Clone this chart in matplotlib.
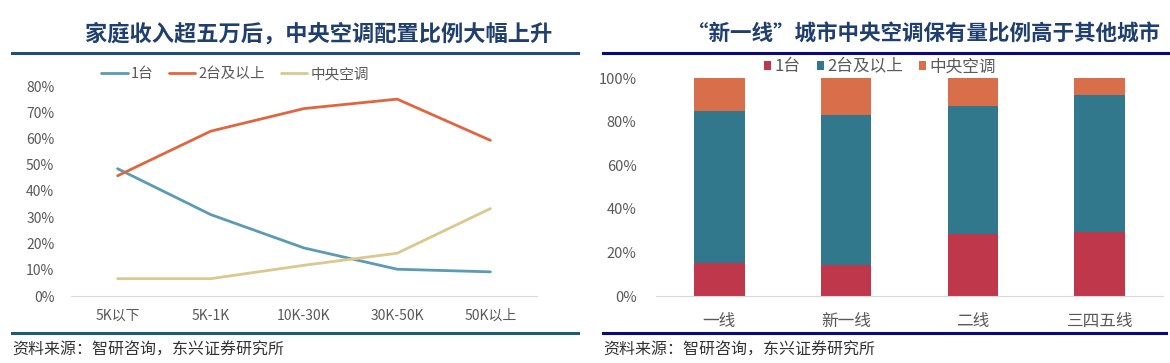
import matplotlib
matplotlib.use("Agg")
import matplotlib.pyplot as plt
from matplotlib.lines import Line2D
from matplotlib.ticker import PercentFormatter

plt.rcParams['font.family'] = ['Noto Sans CJK SC', 'DejaVu Sans']

# ---- data: left chart ----
income_cats = ['5K以下', '5K-1K', '10K-30K', '30K-50K', '50K以上']
one_unit = [48.5, 31.0, 18.3, 10.2, 9.2]
two_plus = [45.8, 62.8, 71.4, 75.0, 59.3]
central_ac = [6.6, 6.6, 11.7, 16.3, 33.3]
line_series = ['1台', '2台及以上', '中央空调']

# ---- data: right chart ----
city_cats = ['一线', '新一线', '二线', '三四五线']
bar_one = [15.2, 14.1, 28.3, 29.2]
bar_two = [69.8, 68.7, 58.7, 62.8]
bar_central = [15.0, 17.2, 13.0, 8.0]

W, H = 1170, 363
fig = plt.figure(figsize=(W / 100, H / 100), dpi=100)
fig.patch.set_facecolor('white')

def fr(x0, ytop, x1, ybot):
    return [x0 / W, 1 - ybot / H, (x1 - x0) / W, (ybot - ytop) / H]

tick_col = '#595959'
title_col = '#1F3F6E'

# ---------- left chart ----------
axL = fig.add_axes(fr(71, 86, 537, 296))
x = range(len(income_cats))
cols_line = ['#5B9BB3', '#E0663F', '#D9C98E']
for vals, lab, c in zip([one_unit, two_plus, central_ac], line_series, cols_line):
    axL.plot(x, [v / 100 for v in vals], color=c, lw=2.0, label=lab, solid_capstyle='round')
axL.set_xlim(-0.5, len(income_cats) - 0.5)
axL.set_ylim(0, 0.8)
axL.set_yticks([i / 10 for i in range(9)])
axL.yaxis.set_major_formatter(PercentFormatter(1.0, decimals=0))
axL.set_xticks(list(x))
axL.set_xticklabels(income_cats)
for s in ['top', 'right', 'left']:
    axL.spines[s].set_visible(False)
axL.spines['bottom'].set_color('#D9D9D9')
axL.tick_params(axis='both', length=0, colors=tick_col, labelsize=10)
axL.tick_params(axis='y', pad=12)
axL.tick_params(axis='x', pad=9)
leg = axL.legend(loc='center', bbox_to_anchor=(235 / W, 1 - 74 / H), bbox_transform=fig.transFigure,
                 ncol=3, frameon=False, fontsize=10.5, handlelength=1.8, columnspacing=1.1,
                 handletextpad=0.2)
for t in leg.get_texts():
    t.set_color(tick_col)

fig.text(319 / W, 1 - 34 / H, '家庭收入超五万后，中央空调配置比例大幅上升', ha='center', va='center',
         fontsize=16, fontweight='bold', color=title_col)
fig.add_artist(Line2D([12 / W, 578 / W], [1 - 53 / H] * 2, color='#1F4E79', lw=2.2))
fig.add_artist(Line2D([12 / W, 578 / W], [1 - 333 / H] * 2, color='#1B5A78', lw=2.2))
fig.text(12 / W, 1 - 350 / H, '资料来源：智研咨询，东兴证券研究所', ha='left', va='center',
         fontsize=11.5, color='#333333', style='italic')

# ---------- right chart ----------
axR = fig.add_axes(fr(656, 78, 1163, 296))
xb = range(len(city_cats))
b1 = [v / 100 for v in bar_one]
b2 = [v / 100 for v in bar_two]
b3 = [v / 100 for v in bar_central]
axR.bar(xb, b1, width=0.4, color='#BE374A', label='1台')
axR.bar(xb, b2, width=0.4, bottom=b1, color='#31788D', label='2台及以上')
axR.bar(xb, b3, width=0.4, bottom=[a + b for a, b in zip(b1, b2)], color='#D86F4A', label='中央空调')
axR.set_xlim(-0.5, len(city_cats) - 0.5)
axR.set_ylim(0, 1.0)
axR.set_yticks([i / 5 for i in range(6)])
axR.yaxis.set_major_formatter(PercentFormatter(1.0, decimals=0))
axR.set_xticks(list(xb))
axR.set_xticklabels(city_cats)
for s in ['top', 'right', 'left']:
    axR.spines[s].set_visible(False)
axR.spines['bottom'].set_color('#D9D9D9')
axR.tick_params(axis='both', length=0, colors=tick_col)
axR.tick_params(axis='y', pad=14, labelsize=10.5)
axR.tick_params(axis='x', pad=12, labelsize=12)
legR = axR.legend(loc='center', bbox_to_anchor=(880 / W, 1 - 67 / H), bbox_transform=fig.transFigure,
                  ncol=3, frameon=False, fontsize=12, handlelength=0.4, handleheight=0.4,
                  handletextpad=0.2, columnspacing=1.0)
for t in legR.get_texts():
    t.set_color(tick_col)

fig.text(923 / W, 1 - 34 / H, '“新一线”城市中央空调保有量比例高于其他城市', ha='center', va='center',
         fontsize=15.5, fontweight='bold', color=title_col)
fig.add_artist(Line2D([603 / W, 1168 / W], [1 - 53 / H] * 2, color='#0A0A80', lw=2.2))
fig.add_artist(Line2D([603 / W, 1166 / W], [1 - 333 / H] * 2, color='#0A0A80', lw=2.2))
fig.text(603 / W, 1 - 350 / H, '资料来源：智研咨询，东兴证券研究所', ha='left', va='center',
         fontsize=11.5, color='#333333', style='italic')

fig.savefig('out.png', dpi=100, facecolor='white')
